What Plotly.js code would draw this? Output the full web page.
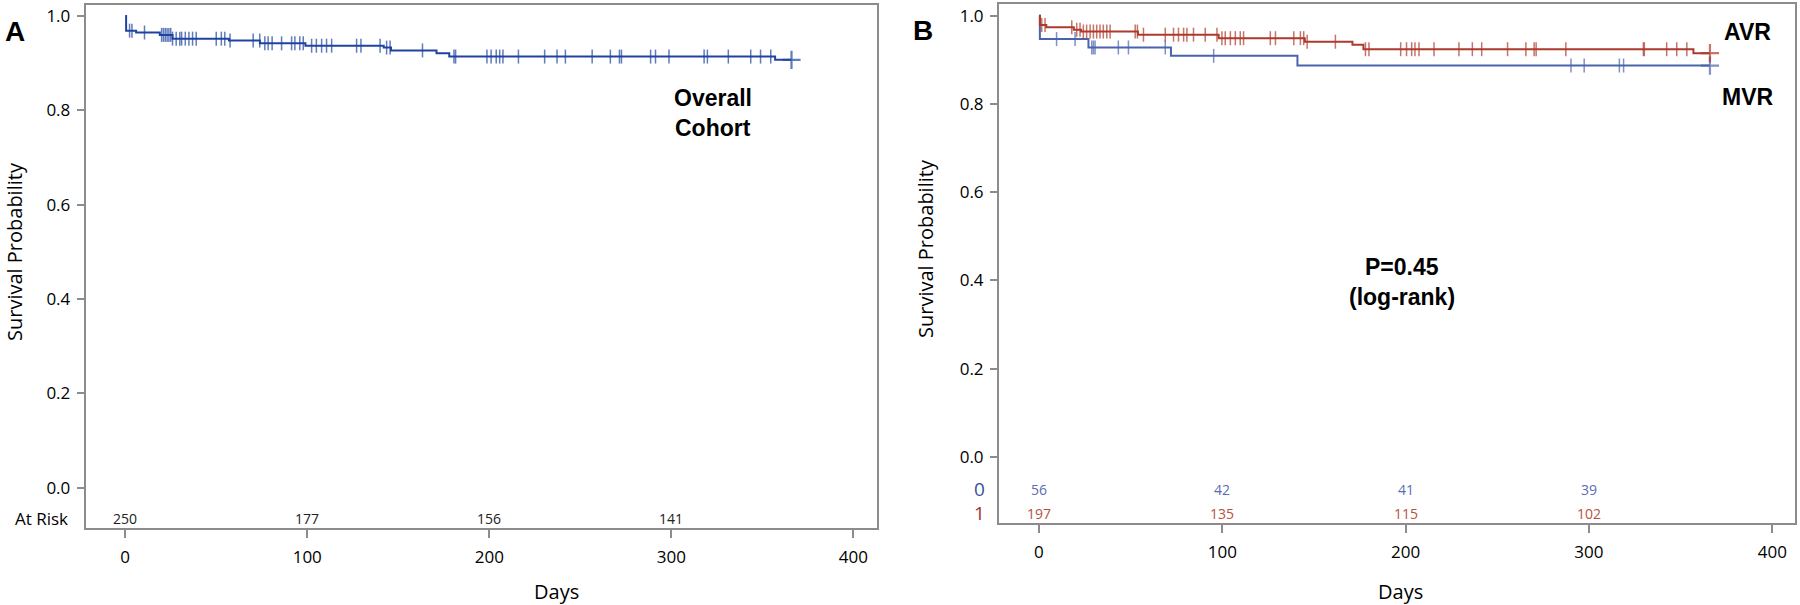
<!DOCTYPE html>
<html>
<head>
<meta charset="utf-8">
<script src="https://cdn.plot.ly/plotly-3.0.1.min.js"></script>
<style>html,body{margin:0;padding:0;background:#fff;}#chart{width:1800px;height:605px;}</style>
</head>
<body>
<div id="chart"></div>
<script>
// ---------- Data ----------
// Panel A: overall cohort Kaplan-Meier steps
const timesA = [0, 0.5, 6, 19, 26, 57, 74, 99, 142, 146, 171, 178, 357, 366];
const survA  = [1.0, 0.969, 0.965, 0.960, 0.952, 0.948, 0.942, 0.937, 0.933, 0.927, 0.921, 0.914, 0.907, 0.907];
const censorA = [2.4, 3.7, 10.6, 20, 21, 22, 23, 24, 25, 26, 28, 30, 31, 33, 35, 37, 39, 50, 52.8, 54.7, 57.6,
  70.3, 73.9, 76.7, 78.5, 80.7, 85.9, 91.4, 93.2, 95.9, 97.8, 102.4, 105, 107.9, 110.6, 113.4, 127.1, 129.5,
  140, 143.6, 145.5, 163.3, 180.6, 181.5, 198.7, 201, 203.8, 205.7, 207.5, 216, 230.4, 237.2, 241.8, 256.5,
  266.5, 271.5, 272.6, 288.6, 291.3, 298.7, 318, 319.8, 331.3, 343.6, 349, 354.6, 366];

// Panel B: MVR (group 0) and AVR (group 1)
const timesMVR = [0, 0.5, 27, 72, 141, 366];
const survMVR  = [1.0, 0.947, 0.928, 0.909, 0.887, 0.887];
const censorMVR = [9.6, 19.7, 28.8, 29.7, 30.6, 43.3, 48.8, 68.9, 95.3, 290.2, 297.4, 316.6, 318.9, 366];

const timesAVR = [0, 0.5, 4, 19, 23, 54, 98, 145, 171, 177, 357, 366];
const survAVR  = [1.0, 0.979, 0.974, 0.968, 0.964, 0.957, 0.949, 0.941, 0.934, 0.924, 0.915, 0.915];
const censorAVR = [1.5, 3.3, 17.9, 20.6, 22.4, 24.2, 26, 27.9, 29.7, 31.5, 33.3, 35.1, 37, 38.8, 52.5, 53.7, 57,
  68.9, 73.4, 76.1, 78.9, 80.7, 84.3, 90.7, 97.1, 99.8, 101.6, 104.4, 107.1, 109.8, 111.6, 126.2, 129, 139,
  142.6, 144.4, 146.3, 161.7, 178.1, 180, 197.3, 200.5, 203.3, 205.1, 207.3, 215.5, 229.1, 236.4, 241.5,
  255.6, 265.6, 270.1, 271.2, 287.4, 329.7, 330.2, 342.4, 347.9, 353.4, 366];

// Numbers at risk
const atRiskDays = [0, 100, 200, 300];
const atRiskA   = [250, 177, 156, 141];
const atRiskMVR = [56, 42, 41, 39];
const atRiskAVR = [197, 135, 115, 102];

const xTicks = [0, 100, 200, 300, 400];
const yTicks = [0, 0.2, 0.4, 0.6, 0.8, 1.0];

// ---------- Helpers ----------
function stepAt(times, surv, t) {
  let v = surv[0];
  for (let i = 0; i < times.length; i++) { if (times[i] <= t) v = surv[i]; }
  return v;
}
function kmTraces(times, surv, censor, color, xa, ya, lw) {
  const last = censor.length - 1;
  return [
    {x: times, y: surv, type: 'scatter', mode: 'lines', line: {shape: 'hv', color: color, width: lw},
     xaxis: xa, yaxis: ya, hoverinfo: 'skip'},
    {x: censor, y: censor.map(t => stepAt(times, surv, t)), type: 'scatter', mode: 'markers',
     marker: {symbol: censor.map((t, i) => i === last ? 'cross-thin' : 'line-ns'),
              size: censor.map((t, i) => i === last ? 13 : 10),
              color: color, line: {color: color, width: censor.map((t, i) => i === last ? 2.2 : 1.5)}},
     xaxis: xa, yaxis: ya, hoverinfo: 'skip'}
  ];
}

const blueA = '#1f44a0';
const blueB = '#4a63ad';
const redB  = '#ad3a2c';

const data = [].concat(
  kmTraces(timesA, survA, censorA, blueA, 'x', 'y', 2),
  kmTraces(timesMVR, survMVR, censorMVR, blueB, 'x2', 'y2', 2),
  kmTraces(timesAVR, survAVR, censorAVR, redB, 'x2', 'y2', 2)
);

const axisGray = '#8c8c8c';
const sans = '"Open Sans", "Noto Sans", sans-serif';
const tickFont = {family: sans, size: 17, color: '#000'};
function xAxis(domain, range, anchor) {
  return {domain: domain, range: range, anchor: anchor, tickvals: xTicks, ticks: 'outside', ticklen: 8,
    tickwidth: 2, tickcolor: axisGray, showline: true, mirror: true, linecolor: axisGray, linewidth: 2,
    showgrid: false, zeroline: false, tickfont: tickFont, ticklabelstandoff: 5, fixedrange: true};
}
function yAxis(domain, range, anchor) {
  return {domain: domain, range: range, anchor: anchor, tickvals: yTicks, tickformat: '.1f', ticks: 'outside',
    ticklen: 7, tickwidth: 2, tickcolor: axisGray, showline: true, mirror: true, linecolor: axisGray,
    linewidth: 2, showgrid: false, zeroline: false, tickfont: tickFont, ticklabelstandoff: 3, fixedrange: true};
}

const boldFont = (s) => ({family: '"Liberation Sans", Arial, sans-serif', size: s, color: '#000'});
const labelFont = {family: sans, size: 20, color: '#000'};

const annotations = [];
function ann(o) { annotations.push(Object.assign({showarrow: false, xref: 'paper', yref: 'paper'}, o)); }
const py = (pix) => 1 - pix / 605;
const px = (pix) => pix / 1800;

// Panel letters
ann({x: px(15), y: py(31), text: '<b>A</b>', font: boldFont(28), xanchor: 'center', yanchor: 'middle'});
ann({x: px(923), y: py(30), text: '<b>B</b>', font: boldFont(28), xanchor: 'center', yanchor: 'middle'});
// Axis titles
ann({x: px(14), y: py(252), text: 'Survival Probability', textangle: -90, font: labelFont, xanchor: 'center', yanchor: 'middle'});
ann({x: px(925), y: py(248), text: 'Survival Probability', textangle: -90, font: labelFont, xanchor: 'center', yanchor: 'middle'});
ann({x: px(556), y: py(591), text: 'Days', font: labelFont, xanchor: 'center', yanchor: 'middle'});
ann({x: px(1400), y: py(591), text: 'Days', font: labelFont, xanchor: 'center', yanchor: 'middle'});
// In-plot labels
ann({x: px(713), y: py(98), text: '<b>Overall</b>', font: boldFont(23), xanchor: 'center', yanchor: 'middle'});
ann({x: px(713), y: py(128), text: '<b>Cohort</b>', font: boldFont(23), xanchor: 'center', yanchor: 'middle'});
ann({x: px(1747), y: py(32), text: '<b>AVR</b>', font: boldFont(23), xanchor: 'center', yanchor: 'middle'});
ann({x: px(1748), y: py(97), text: '<b>MVR</b>', font: boldFont(23), xanchor: 'center', yanchor: 'middle'});
ann({x: px(1402), y: py(267), text: '<b>P=0.45</b>', font: boldFont(23), xanchor: 'center', yanchor: 'middle'});
ann({x: px(1402), y: py(297), text: '<b>(log-rank)</b>', font: boldFont(23), xanchor: 'center', yanchor: 'middle'});
// At-risk table
ann({x: px(70), y: py(518), text: 'At Risk', font: {family: sans, size: 17, color: '#000'}, xanchor: 'right', yanchor: 'middle'});
ann({x: px(979), y: py(489), text: '0', font: {family: sans, size: 19, color: '#3c4f9c'}, xanchor: 'center', yanchor: 'middle'});
ann({x: px(979), y: py(513), text: '1', font: {family: sans, size: 19, color: '#a3332a'}, xanchor: 'center', yanchor: 'middle'});
const riskFont = (c) => ({family: '"Liberation Sans Narrow", "Open Sans", sans-serif', size: 14, color: c});
atRiskDays.forEach((d, i) => {
  annotations.push({x: d, xref: 'x', y: py(518), yref: 'paper', text: String(atRiskA[i]), showarrow: false,
    font: riskFont('#222'), xanchor: 'center', yanchor: 'middle'});
  annotations.push({x: d, xref: 'x2', y: py(489), yref: 'paper', text: String(atRiskMVR[i]), showarrow: false,
    font: riskFont('#5a6db3'), xanchor: 'center', yanchor: 'middle'});
  annotations.push({x: d, xref: 'x2', y: py(513), yref: 'paper', text: String(atRiskAVR[i]), showarrow: false,
    font: riskFont('#b4523f'), xanchor: 'center', yanchor: 'middle'});
});

const layout = {
  width: 1800, height: 605,
  margin: {l: 0, r: 0, t: 0, b: 0},
  paper_bgcolor: '#fff', plot_bgcolor: '#fff',
  showlegend: false,
  xaxis: xAxis([85.7 / 1800, 876.7 / 1800], [-21.7, 412.8], 'y'),
  yaxis: yAxis([1 - 527.7 / 605, 1 - 5.3 / 605], [-0.0848, 1.0227], 'x'),
  xaxis2: xAxis([999 / 1800, 1795 / 1800], [-21.8, 412.4], 'y2'),
  yaxis2: yAxis([1 - 522.5 / 605, 1 - 4 / 605], [-0.149, 1.0265], 'x2'),
  annotations: annotations
};

Plotly.newPlot('chart', data, layout, {displayModeBar: false, staticPlot: true});
</script>
</body>
</html>
